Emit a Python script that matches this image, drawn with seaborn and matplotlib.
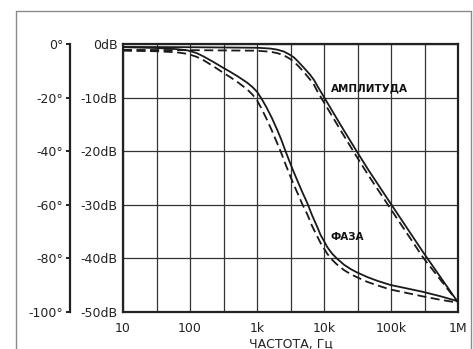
import numpy as np
import matplotlib
matplotlib.use('Agg')
import matplotlib.pyplot as plt
from matplotlib.lines import Line2D
from matplotlib.ticker import FixedLocator, NullFormatter
import seaborn as sns

sns.set_style('white')
plt.rcParams['font.family'] = ['DejaVu Sans']

# amplitude response (dB), solid and dashed curve
amp_freq = [10, 100, 1000, 1585, 2000, 2510, 3090, 3550, 3980, 4900, 6170, 7080,
            7940, 10000, 15000, 20000, 30000, 46000, 98000, 300000, 1000000]
amp_solid = [-0.55, -0.6, -0.7, -0.85, -1.05, -1.4, -2.0, -2.5, -3.1, -4.3, -5.7,
             -6.7, -7.8, -9.9, -13.6, -16.2, -19.8, -23.5, -29.7, -38.8, -48.2]
amp_dashed = [-1.1, -1.15, -1.25, -1.45, -1.7, -2.1, -2.75, -3.3, -3.9, -5.1, -6.6,
              -7.6, -8.8, -10.9, -14.6, -17.2, -20.8, -24.5, -30.7, -39.8, -48.2]

# phase response (degrees)
ph_freq = [10, 32, 63, 93, 126, 158, 220, 295, 400, 525, 710, 850, 1000, 1175,
           1410, 1660, 2000, 2290, 2630, 3020, 3470, 4170, 4790, 5620, 6610, 7940,
           8910, 10000, 11200, 13200, 15500, 20000, 25100, 30900, 44700, 63100,
           97700, 158000, 302000, 562000, 1000000]
ph_solid = [-1.2, -1.5, -1.9, -2.4, -3.4, -4.6, -6.6, -8.5, -10.4, -12.2, -14.4,
            -16.0, -17.8, -20.5, -24.0, -27.5, -32.0, -35.5, -39.6, -43.5, -47.3,
            -52.0, -55.5, -59.3, -63.8, -68.3, -71.3, -73.5, -75.8, -78.2, -80.0,
            -82.4, -84.0, -85.2, -87.0, -88.4, -89.9, -91.0, -92.5, -94.2, -96.0]
ph_dashed = [-2.5, -2.7, -3.1, -3.7, -4.8, -6.0, -8.2, -10.3, -12.4, -14.4, -16.9,
             -18.8, -21.0, -24.2, -28.3, -32.2, -37.0, -40.5, -44.5, -48.3, -52.0,
             -56.5, -60.0, -63.5, -67.8, -71.8, -74.3, -76.3, -78.3, -80.5, -82.2,
             -84.4, -85.9, -87.0, -88.8, -90.1, -91.6, -92.7, -94.2, -95.5, -96.5]

x_ticks = [10, 100, 1000, 10000, 100000, 1000000]
x_labels = ['10', '100', '1k', '10k', '100k', '1M']
db_ticks = [0, -10, -20, -30, -40, -50]
deg_ticks = [0, -20, -40, -60, -80, -100]

W, H = 473, 349
fig = plt.figure(figsize=(W / 100, H / 100), dpi=100)
ax = fig.add_axes([123 / W, 37 / H, 335 / W, 268 / H])

# outer frame
fc = '#8a8a8a'
fig.add_artist(Line2D([15.5 / W, 15.5 / W], [0, 1 - 10.5 / H], color=fc, lw=1.0, transform=fig.transFigure))
fig.add_artist(Line2D([15.5 / W, 471 / W], [1 - 10.5 / H, 1 - 10.5 / H], color=fc, lw=1.0, transform=fig.transFigure))
fig.add_artist(Line2D([471 / W, 471 / W], [0, 1 - 10.5 / H], color=fc, lw=1.0, transform=fig.transFigure))

lc = '#1a1a1a'
dash = (0, (5, 2.5))
sns.lineplot(x=amp_freq, y=amp_solid, ax=ax, color=lc, lw=1.3)
sns.lineplot(x=amp_freq, y=amp_dashed, ax=ax, color=lc, lw=1.3, linestyle=dash)

ax.set_xscale('log')
ax.set_xlim(10, 1e6)
ax.set_ylim(-50, 0)
ax.set_xticks(x_ticks)
ax.set_xticklabels(x_labels)
ax.xaxis.set_minor_locator(FixedLocator([10 ** (k + 0.5) for k in range(1, 6)]))
ax.xaxis.set_minor_formatter(NullFormatter())
ax.set_yticks(db_ticks)
ax.set_yticklabels([f'{v}dB' for v in db_ticks])
ax.tick_params(axis='x', which='both', length=0, pad=7, labelsize=9, colors='#222')
ax.tick_params(axis='y', length=0, pad=4, labelsize=9, colors='#222')
ax.grid(True, which='both', axis='x', color='#333', lw=0.9)
ax.grid(True, which='major', axis='y', color='#333', lw=0.9)
for s in ax.spines.values():
    s.set_color('#222')
    s.set_linewidth(1.6)
ax.set_xlabel('ЧАСТОТА, Гц', fontsize=9, color='#222', labelpad=2)
ax.set_ylabel('')

# phase axis on the far left
ax2 = ax.twinx()
sns.lineplot(x=ph_freq, y=ph_solid, ax=ax2, color=lc, lw=1.3)
sns.lineplot(x=ph_freq, y=ph_dashed, ax=ax2, color=lc, lw=1.3, linestyle=dash)
ax2.set_ylim(-100, 0)
ax2.set_xlim(10, 1e6)
ax2.set_ylabel('')
ax2.yaxis.set_ticks_position('left')
ax2.yaxis.set_label_position('left')
for k in ['right', 'top', 'bottom']:
    ax2.spines[k].set_visible(False)
ax2.spines['left'].set_visible(True)
ax2.spines['left'].set_position(('outward', 38))
ax2.spines['left'].set_color('#222')
ax2.spines['left'].set_linewidth(1.6)
ax2.set_yticks(deg_ticks)
ax2.set_yticklabels([f'{v}°' for v in deg_ticks])
ax2.tick_params(axis='y', direction='out', length=3, width=1.4, pad=2, labelsize=9, colors='#222')

ax.text(12600, -8.2, 'АМПЛИТУДА', fontsize=7.5, fontweight='bold', va='center', ha='left', color='#111')
ax.text(12300, -36, 'ФАЗА', fontsize=7.5, fontweight='bold', va='center', ha='left', color='#111')

fig.savefig('out.png', dpi=100)
